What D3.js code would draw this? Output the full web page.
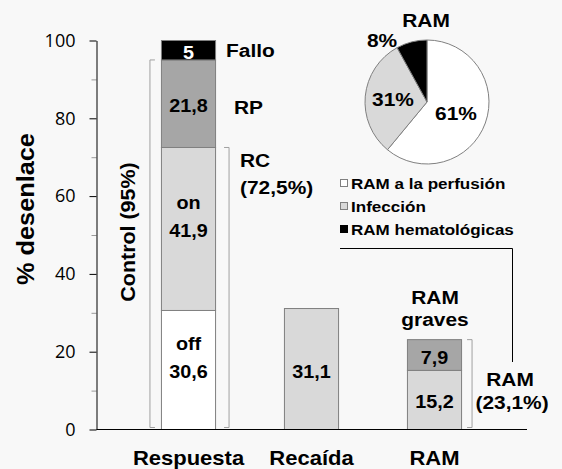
<!DOCTYPE html>
<html>
<head>
<meta charset="utf-8">
<script src="https://cdn.jsdelivr.net/npm/d3@7"></script>
<style>
  body { margin: 0; background: #f8f8f8; }
  text { font-family: "Liberation Sans", Arial, sans-serif; font-weight: bold; fill: #000; }
</style>
</head>
<body>
<div id="vis"></div>
<script>
// categories and stacked values (heights as drawn; label text as printed)
const categories = ["Respuesta", "Recaída", "RAM"];
const respuestaValues = [30.6, 41.9, 22.5, 5];
const respuestaLabels = [["off", "30,6"], ["on", "41,9"], ["21,8"], ["5"]];
const recaidaValues = [31.1];
const recaidaLabels = [["31,1"]];
const ramValues = [15.2, 7.9];
const ramLabels = [["15,2"], ["7,9"]];
const yTicks = [0, 20, 40, 60, 80, 100];
const yMinorTicks = [10, 30, 50, 70, 90];

// pie: RAM breakdown
const pieNames = ["RAM a la perfusión", "Infección", "RAM hematológicas"];
const pieValues = [61, 31, 8];

const fills = ["#ffffff", "#d9d9d9", "#a6a6a6", "#000000"];
const stackData = [
    {cat: "Respuesta", values: respuestaValues, labels: respuestaLabels, fills: [fills[0], fills[1], fills[2], fills[3]]},
    {cat: "Recaída", values: recaidaValues, labels: recaidaLabels, fills: [fills[1]]},
    {cat: "RAM", values: ramValues, labels: ramLabels, fills: [fills[1], fills[2]]}
];

const svg = d3.select("#vis")
    .append("svg")
    .attr("width", 562)
    .attr("height", 469);

// text in the original is a little wider than Arial
const SX = 1.1;
function label(parent, tx, ty, str, size, anchor, rot) {
    return parent.append("text")
        .attr("transform", `translate(${tx},${ty})` + (rot ? ` rotate(${rot})` : "") + ` scale(${SX},1)`)
        .attr("text-anchor", anchor || "middle")
        .style("font-size", size + "px")
        .text(str);
}

const x = d3.scaleBand()
    .domain(categories)
    .range([127, 496])
    .paddingInner(0.56)
    .paddingOuter(0.28);

const y = d3.scaleLinear()
    .domain([0, 100])
    .range([429.5, 40.5]);

// y axis
const axisX = 96.5;
svg.append("g")
    .attr("transform", `translate(${axisX},0)`)
    .call(d3.axisLeft(y).tickValues(yMinorTicks).tickSize(5).tickFormat(""))
    .call(g => g.select(".domain").remove())
    .call(g => g.selectAll("line").attr("stroke", "#999"));

svg.append("g")
    .attr("transform", `translate(${axisX},0)`)
    .call(d3.axisLeft(y).tickValues(yTicks).tickSize(7).tickSizeOuter(0).tickPadding(14))
    .call(g => g.selectAll("text")
        .style("font-family", "'Open Sans', sans-serif")
        .style("font-weight", "normal")
        .style("font-size", "18px"));

label(svg, 34, 209, "% desenlace", 23, "middle", -90);

// bars
stackData.forEach(d => {
    let base = 0;
    d.values.forEach((v, i) => {
        const y0 = y(base), y1 = y(base + v);
        svg.append("rect")
            .attr("x", x(d.cat))
            .attr("y", y1)
            .attr("width", x.bandwidth())
            .attr("height", y0 - y1)
            .attr("fill", d.fills[i])
            .attr("stroke", "#7f7f7f")
            .attr("stroke-width", 1);
        // value sits in the middle, any qualifier goes above it
        const lines = d.labels[i];
        const cy = (y0 + y1) / 2 + 2;
        const lh = 28;
        lines.forEach((t, j) => {
            label(svg, x(d.cat) + x.bandwidth() / 2, cy - (lines.length - 1 - j) * lh + 6.5, t, 18)
                .style("fill", d.fills[i] === "#000000" ? "#fff" : "#000");
        });
        base += v;
    });
});

// x axis line
svg.append("line")
    .attr("x1", axisX).attr("x2", 527)
    .attr("y1", y(0)).attr("y2", y(0))
    .attr("stroke", "#000");

categories.forEach(c => label(svg, x(c) + x.bandwidth() / 2, 465, c, 20));

// brackets
function bracket(bx, v0, v1, dir) {
    const p = d3.path();
    p.moveTo(bx + dir * 5, y(v1));
    p.lineTo(bx, y(v1));
    p.lineTo(bx, y(v0) - 2);
    p.lineTo(bx + dir * 5, y(v0) - 2);
    svg.append("path")
        .attr("d", p.toString())
        .attr("fill", "none")
        .attr("stroke", "#a0a0a0")
        .attr("stroke-width", 1);
}
const respX = x("Respuesta");
bracket(respX - 11.5, 0, respuestaValues[0] + respuestaValues[1] + respuestaValues[2], 1);
bracket(respX + x.bandwidth() + 13.5, 0, respuestaValues[0] + respuestaValues[1], -1);
bracket(x("RAM") + x.bandwidth() + 10.5, 0, d3.sum(ramValues), -1);

// annotations
label(svg, 135, 232, "Control (95%)", 19.5, "middle", -90);

const ann = [
    {t: "Fallo", x: 226, y: 57, a: "start"},
    {t: "RP", x: 234, y: 114, a: "start"},
    {t: "RC", x: 240, y: 167, a: "start"},
    {t: "(72,5%)", x: 240, y: 194, a: "start"},
    {t: "RAM", x: 435, y: 304, a: "middle"},
    {t: "graves", x: 435, y: 326, a: "middle"},
    {t: "RAM", x: 510, y: 386, a: "middle"},
    {t: "(23,1%)", x: 512, y: 409, a: "middle"}
];
ann.forEach(a => label(svg, a.x, a.y, a.t, 19, a.a));

// connector from legend to RAM bracket
svg.append("path")
    .attr("d", "M340,248.5H512.5V362")
    .attr("fill", "none")
    .attr("stroke", "#000")
    .attr("stroke-width", 1);

// pie
const pieG = svg.append("g").attr("transform", "translate(427,102)");
const pie = d3.pie().sort(null)(pieValues);
const arc = d3.arc().innerRadius(0).outerRadius(62);
pieG.selectAll("path")
    .data(pie)
    .enter()
    .append("path")
    .attr("d", arc)
    .attr("fill", (d, i) => ["#ffffff", "#d9d9d9", "#000000"][i])
    .attr("stroke", "#808080")
    .attr("stroke-width", 1);

label(svg, 426, 27, "RAM", 19);

const pieLabelPos = [[456, 120], [393, 106], [382, 47]];
pieValues.forEach((v, i) => label(svg, pieLabelPos[i][0], pieLabelPos[i][1], v + "%", 19));

// legend
const legend = svg.append("g").attr("transform", "translate(340,0)");
pieNames.forEach((n, i) => {
    const ly = 183 + i * 23;
    legend.append("rect")
        .attr("x", 0.5).attr("y", ly - 3.5)
        .attr("width", 7).attr("height", 7)
        .attr("fill", ["#ffffff", "#d9d9d9", "#000000"][i])
        .attr("stroke", ["#808080", "#808080", "#000"][i]);
    label(legend, 11, ly + 5.5, n, 15.5, "start");
});
</script>
</body>
</html>
